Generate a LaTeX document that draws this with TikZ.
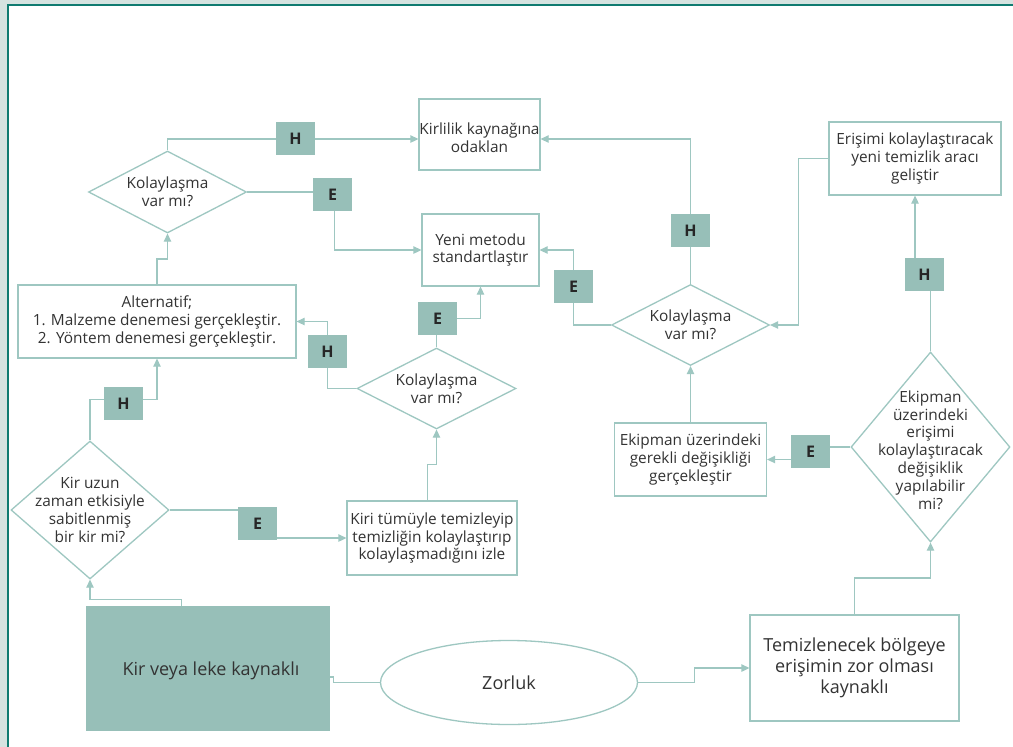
\documentclass[tikz,border=0pt]{standalone}
\usepackage{fontspec}
\setmainfont{Open Sans}
\usetikzlibrary{shapes.geometric,arrows.meta}
\definecolor{ln}{HTML}{9EC7C1}
\definecolor{lab}{HTML}{97BFB8}
\definecolor{framec}{HTML}{0F7B70}
\definecolor{outer}{HTML}{D5E3E0}
\definecolor{txt}{HTML}{333333}
\pgfdeclarelayer{bg}
\pgfdeclarelayer{lines}
\pgfsetlayers{bg,lines,main}
\begin{document}
\begin{tikzpicture}[x=1pt,y=-1pt,
  box/.style={draw=ln,line width=1.3pt,fill=white,inner sep=0pt,align=center,text=txt,font=\fontsize{15.4}{17.8}\selectfont},
  bigbox/.style={box,font=\fontsize{18}{21}\selectfont},
  dia/.style={diamond,draw=ln,line width=1.3pt,fill=white,inner sep=0pt},
  dtext/.style={inner sep=0pt,align=center,text=txt,font=\fontsize{15.4}{17.8}\selectfont},
  lbl/.style={fill=lab,minimum width=39pt,minimum height=33pt,inner sep=0pt,text=black!85,font=\fontsize{16}{16}\selectfont\bfseries},
  conn/.style={draw=ln,line width=1.3pt},
  arr/.style={conn,-{Triangle[length=8pt,width=7.5pt]}}
]
\useasboundingbox (0,0) rectangle (1013,747);
\begin{pgfonlayer}{bg}
  \fill[outer] (0,0) rectangle (1013,747);
  \fill[white] (8,5) rectangle (1013,747);
  \draw[framec,line width=2.4pt] (8,747) -- (8,4.8) -- (1013,4.8);
\end{pgfonlayer}

% boxes
\node[box,minimum width=121pt,minimum height=71pt] (kir) at (479.5,134.5) {};
\node[dtext] (kirt) at (479.5,138) {Kirlilik kaynağına\\odaklan};
\node[box,minimum width=117pt,minimum height=72pt] (yeni) at (480.5,250) {Yeni metodu\\standartlaştır};
\node[box,minimum width=278pt,minimum height=73pt] (alt) at (157,321.5) {Alternatif;\\1. Malzeme denemesi gerçekleştir.\\2. Yöntem denemesi gerçekleştir.};
\node[box,minimum width=170pt,minimum height=74pt] (kiri) at (432,538) {Kiri tümüyle temizleyip\\temizliğin kolaylaştırıp\\kolaylaşmadığını izle};
\node[bigbox,draw=lab,fill=lab,minimum width=242pt,minimum height=123pt] (src) at (208,668.5) {};
\node[inner sep=0pt,text=txt,font=\fontsize{18}{21}\selectfont] (srct) at (211,671) {Kir veya leke kaynaklı};
\node[ellipse,draw=ln,line width=1.3pt,fill=white,inner sep=0pt,minimum width=257pt,minimum height=84pt,text=txt,font=\fontsize{18}{21}\selectfont] (zor) at (509,682.5) {Zorluk};
\node[bigbox,minimum width=209pt,minimum height=106pt] (tem) at (854.5,668) {Temizlenecek bölgeye\\erişimin zor olması\\kaynaklı};
\node[box,minimum width=152pt,minimum height=73pt] (ekip) at (690.5,459.5) {Ekipman üzerindeki\\gerekli değişikliği\\gerçekleştir};
\node[box,minimum width=172pt,minimum height=73pt] (eri) at (915,158.5) {Erişimi kolaylaştıracak\\yeni temizlik aracı\\geliştir};

% diamonds
\node[dia,minimum width=158pt,minimum height=82pt] (d1) at (167.5,192) {};
\node[dtext] (d1t) at (d1) {Kolaylaşma\\var mı?};
\node[dia,minimum width=159pt,minimum height=81pt] (d2) at (436.5,388.5) {};
\node[dtext] (d2t) at (d2) {Kolaylaşma\\var mı?};
\node[dia,minimum width=158pt,minimum height=138pt] (d3) at (90,510) {};
\node[dtext] (d3t) at (d3) {Kir uzun\\zaman etkisiyle\\sabitlenmiş\\bir kir mi?};
\node[dia,minimum width=158pt,minimum height=81pt] (d4) at (690.5,325) {};
\node[dtext] (d4t) at (d4) {Kolaylaşma\\var mı?};
\node[dia,minimum width=159pt,minimum height=190pt] (d5) at (930.5,447) {};
\node[dtext] (d5t) at ([yshift=-3pt]d5.center) {Ekipman\\üzerindeki\\erişimi\\kolaylaştıracak\\değişiklik\\yapılabilir\\mi?};

% labels
\node[lbl] (H1) at (295.5,138.5) {H};
\node[lbl] (E1) at (332.5,194.5) {E};
\node[lbl] (H2) at (123.5,403.5) {H};
\node[lbl] (H3) at (327.5,351.5) {H};
\node[lbl] (E2) at (437.5,318.5) {E};
\node[lbl] (E3) at (257.5,523.5) {E};
\node[lbl] (H4) at (690.5,230.5) {H};
\node[lbl] (E4) at (573.5,286.5) {E};
\node[lbl] (H5) at (924.5,274.5) {H};
\node[lbl] (E5) at (810.5,451.5) {E};

\begin{pgfonlayer}{lines}
  \draw[arr] (d1.north) |- ([yshift=-4.5pt]kir.west);
  \draw[arr] (d1.east) -| ([xshift=2pt]E1.center) |- (yeni.west);
  \draw[arr] (alt.north) -- ++(0,-25.3) -| (d1.south);
  \draw[arr] (d3.north) |- ([yshift=3.8pt]H2.center) -| (alt.south);
  \draw[arr] (d2.west) -| (H3.center) |- (alt.east);
  \draw[arr] (d2.north) |- (E2.east) -| (yeni.south);
  \draw[arr] (d3.east) -| (E3.center) |- (kiri.west);
  \draw[arr] ([xshift=-4.7pt]kiri.north) -- ++(0,-35.7) -| (d2.south);
  \draw[arr] ([xshift=-26.3pt]src.north) -- ++(0,-6.7) -| (d3.south);
  \draw[conn] ([yshift=-8.5pt]src.east) -- ++(3.7,0) |- (zor.west);
  \draw[arr] (zor.east) -- ++(56,0) |- (tem.west);
  \draw[arr] (tem.north) -- ++(0,-36.3) -| (d5.south);
  \draw[arr] (d5.north) |- (H5.center) -| (eri.south);
  \draw[arr] (d5.west) -| (E5.center) |- (ekip.east);
  \draw[arr] (ekip.north) -- (d4.south);
  \draw[arr] (d4.north) |- ([yshift=-4.5pt]kir.east);
  \draw[arr] (d4.west) -| (E4.center) |- (yeni.east);
  \draw[arr] (eri.west) -- ++(-30,0) |- (d4.east);
\end{pgfonlayer}
\end{tikzpicture}
\end{document}
